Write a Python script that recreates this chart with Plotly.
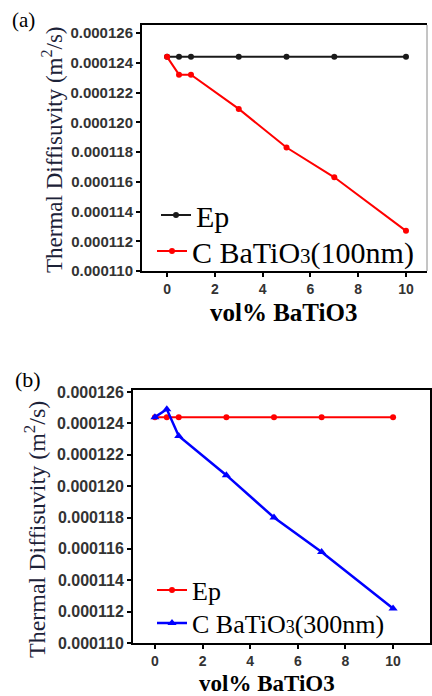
import plotly.graph_objects as go

# ---- data ----
vol = [0, 0.5, 1, 3, 5, 7, 10]
a_ep = [0.0001244, 0.0001244, 0.0001244, 0.0001244, 0.0001244, 0.0001244, 0.0001244]
a_c100 = [0.0001244, 0.0001232, 0.0001232, 0.0001209, 0.0001183, 0.0001163, 0.0001127]
b_ep = [0.0001244, 0.0001244, 0.0001244, 0.0001244, 0.0001244, 0.0001244, 0.0001244]
b_c300 = [0.0001244, 0.0001249, 0.0001232, 0.0001207, 0.0001180, 0.0001158, 0.0001122]
x_ticks = [0, 2, 4, 6, 8, 10]
y_ticks = [0.000110, 0.000112, 0.000114, 0.000116, 0.000118, 0.000120, 0.000122, 0.000124, 0.000126]
y_tick_text = ["0.000110", "0.000112", "0.000114", "0.000116", "0.000118",
               "0.000120", "0.000122", "0.000124", "0.000126"]

W, H = 432, 696
SERIF = "Liberation Serif, Times New Roman, serif"
SANS = "Liberation Sans, Arial, sans-serif"
TITLE_COLOR = "#1c2238"

def px(x):
    return x / W

def py(y):
    return 1 - y / H

fig = go.Figure()

fig.add_trace(go.Scatter(x=vol, y=a_ep, mode="lines+markers", name="Ep",
                         line=dict(color="#1a1a1a", width=2),
                         marker=dict(symbol="circle", size=6, color="#1a1a1a"),
                         xaxis="x", yaxis="y", legend="legend"))
fig.add_trace(go.Scatter(x=vol, y=a_c100, mode="lines+markers",
                         name='C BaTiO<span style="font-size:21px">3</span>(100nm)',
                         line=dict(color="#ff0000", width=2),
                         marker=dict(symbol="circle", size=6, color="#ff0000"),
                         xaxis="x", yaxis="y", legend="legend3"))
fig.add_trace(go.Scatter(x=vol, y=b_ep, mode="lines+markers", name="Ep",
                         line=dict(color="#ff0000", width=2),
                         marker=dict(symbol="circle", size=6, color="#ff0000"),
                         xaxis="x2", yaxis="y2", legend="legend2"))
fig.add_trace(go.Scatter(x=vol, y=b_c300, mode="lines+markers",
                         name='C BaTiO<span style="font-size:18px">3</span>(300nm)',
                         line=dict(color="#0000ff", width=2.5),
                         marker=dict(symbol="triangle-up", size=8, color="#0000ff"),
                         xaxis="x2", yaxis="y2", legend="legend4"))

axis_common = dict(showgrid=False, zeroline=False, showline=True, linecolor="black",
                   linewidth=2, ticks="outside", ticklen=4, tickwidth=2, tickcolor="black",
                   automargin=False)

def leg(x, y, size):
    return dict(x=px(x), y=py(y), xanchor="left", yanchor="middle",
                bgcolor="rgba(0,0,0,0)", font=dict(family=SERIF, size=size, color="black"))

fig.update_layout(
    width=W, height=H,
    margin=dict(l=0, r=0, t=0, b=0, pad=0, autoexpand=False),
    paper_bgcolor="white", plot_bgcolor="white",
    showlegend=True,
    xaxis=dict(domain=[px(142), px(427)], range=[-1.05, 10.88], anchor="y",
               tickvals=x_ticks, ticktext=[str(t) for t in x_ticks], mirror=True,
               tickfont=dict(family=SANS, size=14, color="#333333", weight="bold"),
               **axis_common),
    yaxis=dict(domain=[py(271), py(25)], range=[0.000110, 0.00012654], anchor="x",
               tickvals=y_ticks, ticktext=y_tick_text, mirror=False,
               tickfont=dict(family=SANS, size=15, color="#333333", weight="bold"),
               **axis_common),
    xaxis2=dict(domain=[px(133), px(430)], range=[-0.92, 11.55], anchor="y2",
                tickvals=x_ticks, ticktext=[str(t) for t in x_ticks], mirror=True,
                tickfont=dict(family=SANS, size=14, color="#333333", weight="bold"),
                **axis_common),
    yaxis2=dict(domain=[py(643), py(390)], range=[0.000110, 0.00012613], anchor="x2",
                tickvals=y_ticks, ticktext=y_tick_text, mirror=True,
                tickfont=dict(family=SANS, size=16, color="#333333", weight="bold"),
                **axis_common),
    legend=leg(156, 215, 30),
    legend3=leg(152, 251, 30),
    legend2=leg(152, 590, 26),
    legend4=leg(152, 623, 26),
    shapes=[dict(type="line", xref="x domain", yref="y domain", x0=1, x1=1, y0=0, y1=1,
                 line=dict(color="#8a8a8a", width=1))],
)

annotations = [
    dict(text="(a)", x=px(23), y=py(20), font=dict(family=SERIF, size=21, color="black")),
    dict(text="(b)", x=px(28), y=py(379), font=dict(family=SERIF, size=22, color="black")),
    dict(text="Thermal Diffisuvity (m<sup>2</sup>/s)", x=px(53), y=py(150), textangle=-90,
         font=dict(family=SERIF, size=23, color=TITLE_COLOR)),
    dict(text="Thermal Diffisuvity (m<sup>2</sup>/s)", x=px(35), y=py(530), textangle=-90,
         font=dict(family=SERIF, size=24, color=TITLE_COLOR)),
    dict(text="<b>vol% BaTiO3</b>", x=px(284), y=py(312),
         font=dict(family=SERIF, size=25, color="black")),
    dict(text="<b>vol% BaTiO3</b>", x=px(267), y=py(683),
         font=dict(family=SERIF, size=23, color="black")),
]
for a in annotations:
    a.update(xref="paper", yref="paper", showarrow=False, xanchor="center", yanchor="middle")
fig.update_layout(annotations=annotations)

fig.write_html("out.html", config={"displayModeBar": False},
               post_script="document.body.style.margin='0';document.body.style.padding='0';")
